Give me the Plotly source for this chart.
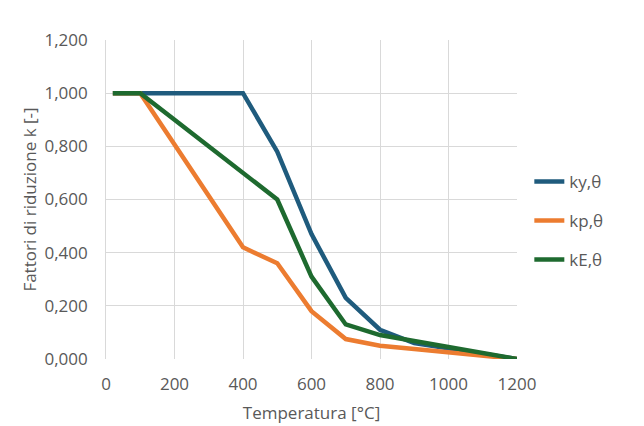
import plotly.graph_objects as go

temperatura = [20, 100, 200, 300, 400, 500, 600, 700, 800, 900, 1000, 1100, 1200]
ky = [1.0, 1.0, 1.0, 1.0, 1.0, 0.78, 0.47, 0.23, 0.11, 0.06, 0.04, 0.02, 0.0]
kp = [1.0, 1.0, 0.807, 0.613, 0.42, 0.36, 0.18, 0.075, 0.05, 0.0375, 0.025, 0.0125, 0.0]
kE = [1.0, 1.0, 0.9, 0.8, 0.7, 0.6, 0.31, 0.13, 0.09, 0.0675, 0.045, 0.0225, 0.0]

serie = [
    ('ky,θ', ky, '#1F5B7D'),
    ('kp,θ', kp, '#EC7C30'),
    ('kE,θ', kE, '#1E6A2F'),
]

fig = go.Figure()
for nome, valori, colore in serie:
    fig.add_trace(go.Scatter(x=temperatura, y=valori, mode='lines', name=nome,
                             legendgroup=nome,
                             line=dict(color=colore, width=4.5)))

grigio = '#595959'
fig.update_layout(
    width=644, height=426,
    margin=dict(l=98, r=135, t=32, b=75),
    plot_bgcolor='white', paper_bgcolor='white',
    separators=',.',
    font=dict(family='Open Sans, Calibri, sans-serif', size=17, color=grigio),
    legend=dict(x=1.03, y=0.433, xanchor='left', yanchor='middle',
                tracegroupgap=14, font=dict(size=17, color=grigio),
                itemwidth=30),
    showlegend=True,
)
# trattini bianchi per distanziare le etichette dagli assi
fig.update_xaxes(range=[0, 1200], dtick=200, tickformat='d',
                 showgrid=True, gridcolor='#D9D9D9', gridwidth=1,
                 showline=False, zeroline=False,
                 ticks='outside', ticklen=10, tickcolor='white',
                 title=dict(text='Temperatura [°C]', font=dict(size=17), standoff=12))
fig.update_yaxes(range=[0, 1.2], dtick=0.2, tickformat='.3f',
                 showgrid=True, gridcolor='#D9D9D9', gridwidth=1,
                 showline=True, linecolor='#D9D9D9', zeroline=False,
                 ticks='outside', ticklen=5, tickcolor='white',
                 ticksuffix='  ',
                 title=dict(text='Fattori di riduzione k [-]', font=dict(size=17), standoff=3))

fig.write_html('out.html')
